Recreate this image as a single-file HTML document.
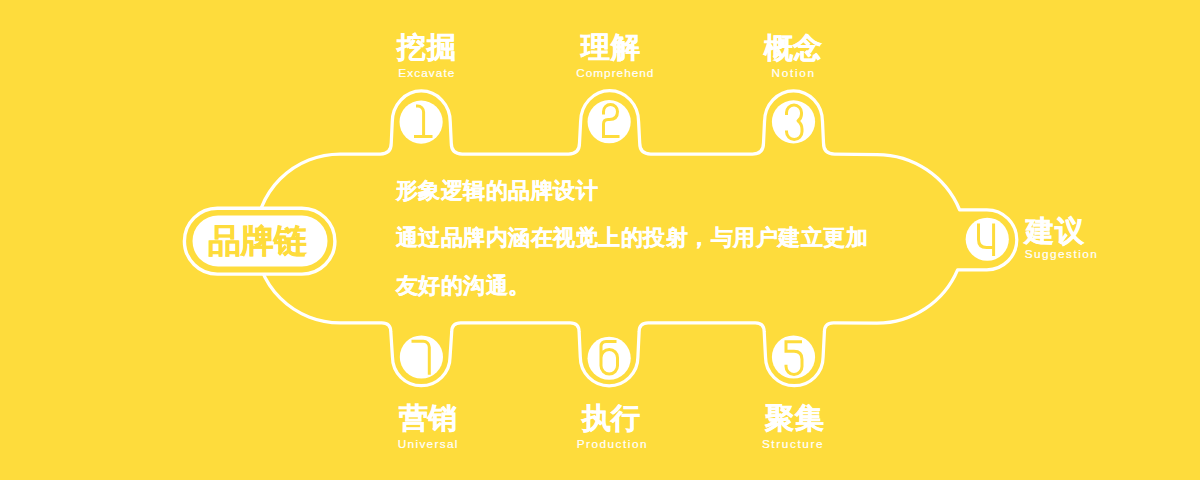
<!DOCTYPE html>
<html><head><meta charset="utf-8">
<style>
html,body{margin:0;padding:0;}
body{width:1200px;height:480px;background:#FEDC3C;position:relative;overflow:hidden;font-family:"Liberation Sans",sans-serif;color:#fff;}
svg{position:absolute;left:0;top:0;}
.t{position:absolute;white-space:nowrap;}
.cn{font-size:28.5px;letter-spacing:0.6px;-webkit-text-stroke:0.45px #fff;font-weight:bold;line-height:1;}
.en{font-size:11.8px;line-height:1;-webkit-text-stroke:0.2px #fff;}
.body{position:absolute;left:395.8px;font-size:22px;font-weight:bold;letter-spacing:0.5px;-webkit-text-stroke:0.3px #fff;line-height:1;white-space:nowrap;}
</style></head>
<body>
<svg width="1200" height="480" viewBox="0 0 1200 480">
  <path fill="none" stroke="#fff" stroke-width="3.25" stroke-linejoin="round"
   d="M340,154.0 L380.25,154.0 Q391.25,154.0 391.25,143.00 L392.25,122.00 A29.00,31.00 0 0 1 450.25,122.00 L451.25,143.00 Q451.25,154.0 462.25,154.0 L568.50,154.0 Q579.50,154.0 579.50,143.00 L580.60,121.80 A29.00,31.20 0 0 1 638.60,121.80 L639.70,143.00 Q639.70,154.0 650.70,154.0 L752.50,154.0 Q763.50,154.0 763.50,143.00 L764.50,121.90 A29.00,31.00 0 0 1 822.50,121.90 L823.50,143.00 Q823.50,154.0 834.50,154.0 L877,154.6 A89.6,89.6 0 0 1 959.6,209.8 L986.8,209.8 A30,30 0 0 1 986.8,269.8 L957.6,269.8 A87.6,87.6 0 0 1 877,323.1 L833.40,322.9 Q824.40,322.9 824.40,331.90 L823.10,357.00 A28.80,28.75 0 0 1 765.50,357.00 L764.20,331.90 Q764.20,322.9 755.20,322.9 L648.10,322.9 Q639.10,322.9 639.10,331.90 L637.90,357.00 A28.80,28.75 0 0 1 580.30,357.00 L579.10,331.90 Q579.10,322.9 570.10,322.9 L460.70,322.9 Q451.70,322.9 451.70,331.90 L450.05,357.00 A28.80,28.75 0 0 1 392.45,357.00 L390.80,331.90 Q390.80,322.9 381.80,322.9 L340,322.9 A80,80 0 0 1 340,154.0 Z"/>
  <!-- pill -->
  <rect x="184.4" y="208.2" width="150.5" height="65.9" rx="32.95" fill="#FEDC3C" stroke="#fff" stroke-width="3.4"/>
  <rect x="192.5" y="215.5" width="135" height="51" rx="25.5" fill="#fff"/>
  <!-- circles -->
  <g fill="#fff">
  <circle cx="421.1" cy="122.1" r="21.6"/>
  <circle cx="609.15" cy="121.7" r="21.6"/>
  <circle cx="793.5" cy="121.85" r="21.6"/>
  <circle cx="987.25" cy="239.25" r="21.6"/>
  <circle cx="421.4" cy="357" r="21.6"/>
  <circle cx="609.15" cy="358.25" r="21.6"/>
  <circle cx="793.5" cy="357" r="21.6"/>
  </g>
  <g fill="none" stroke="#FEDC3C" stroke-width="3" stroke-linecap="butt">
  <path d="M416,106 H417.6 A6,6 0 0 1 423.6,112 V135 M414,136.5 H432.5"/>
  <path d="M603.5,114.5 V111.5 A7,7 0 0 1 617.5,111.5 Q617.5,119.5 609.5,119.5 H608 Q603.5,119.5 603.5,124 V136.6 H619.5"/>
  <path stroke-linejoin="round" d="M786.5,115 V112.5 A7.5,7.5 0 0 1 801.5,112.5 V114 Q801.5,118.5 798,120.8 Q802,124 802,129 V131.8 A7.75,7.75 0 0 1 786.5,131.8 V130.4"/>
  <path d="M978.5,223.5 V239.5 Q978.5,247.5 986.5,247.5 H993.6 M993.6,223.5 V256"/>
  <path d="M802,341.7 H786 V351.2 H794 Q802,351.2 802,359.2 V366.5 A8,8 0 0 1 786,366.5 V364.8"/>
  <path d="M616.5,341.5 H606 Q601,341.5 601,346.5 V365.75 A8.25,8.25 0 0 0 617.5,365.75 V357.75 A8.25,8.25 0 0 0 601,357.75"/>
  <path d="M411.5,341.3 H423.3 A6,6 0 0 1 429.3,347.3 V374.8"/>
  </g>
</svg>
<div class="t cn" style="left:397px;top:33.4px">挖掘</div>
<div class="t en" style="left:398.2px;top:68.2px;letter-spacing:1.1px">Excavate</div>
<div class="t cn" style="left:581px;top:33.4px">理解</div>
<div class="t en" style="left:576.2px;top:68.2px;letter-spacing:1.0px">Comprehend</div>
<div class="t cn" style="left:763.6px;top:33.6px">概念</div>
<div class="t en" style="left:771.5px;top:68.3px;letter-spacing:1.7px">Notion</div>
<div class="t cn" style="left:398.6px;top:403.8px">营销</div>
<div class="t en" style="left:397.8px;top:438.7px;letter-spacing:1.3px">Universal</div>
<div class="t cn" style="left:581.9px;top:403.8px">执行</div>
<div class="t en" style="left:576.65px;top:438.7px;letter-spacing:1.5px">Production</div>
<div class="t cn" style="left:765px;top:403.8px">聚集</div>
<div class="t en" style="left:761.9px;top:438.8px;letter-spacing:1.6px">Structure</div>
<div class="t cn" style="left:1025.25px;top:216.9px">建议</div>
<div class="t en" style="left:1024.7px;top:248.7px;letter-spacing:1.45px">Suggestion</div>
<div class="t" style="left:208px;top:224px;font-size:33px;font-weight:bold;color:#FEDC3C;line-height:1;-webkit-text-stroke:0.45px #FEDC3C">品牌链</div>
<div class="body" style="top:179.7px">形象逻辑的品牌设计</div>
<div class="body" style="top:227.3px">通过品牌内涵在视觉上的投射，与用户建立更加</div>
<div class="body" style="top:275px">友好的沟通。</div>
</body></html>
